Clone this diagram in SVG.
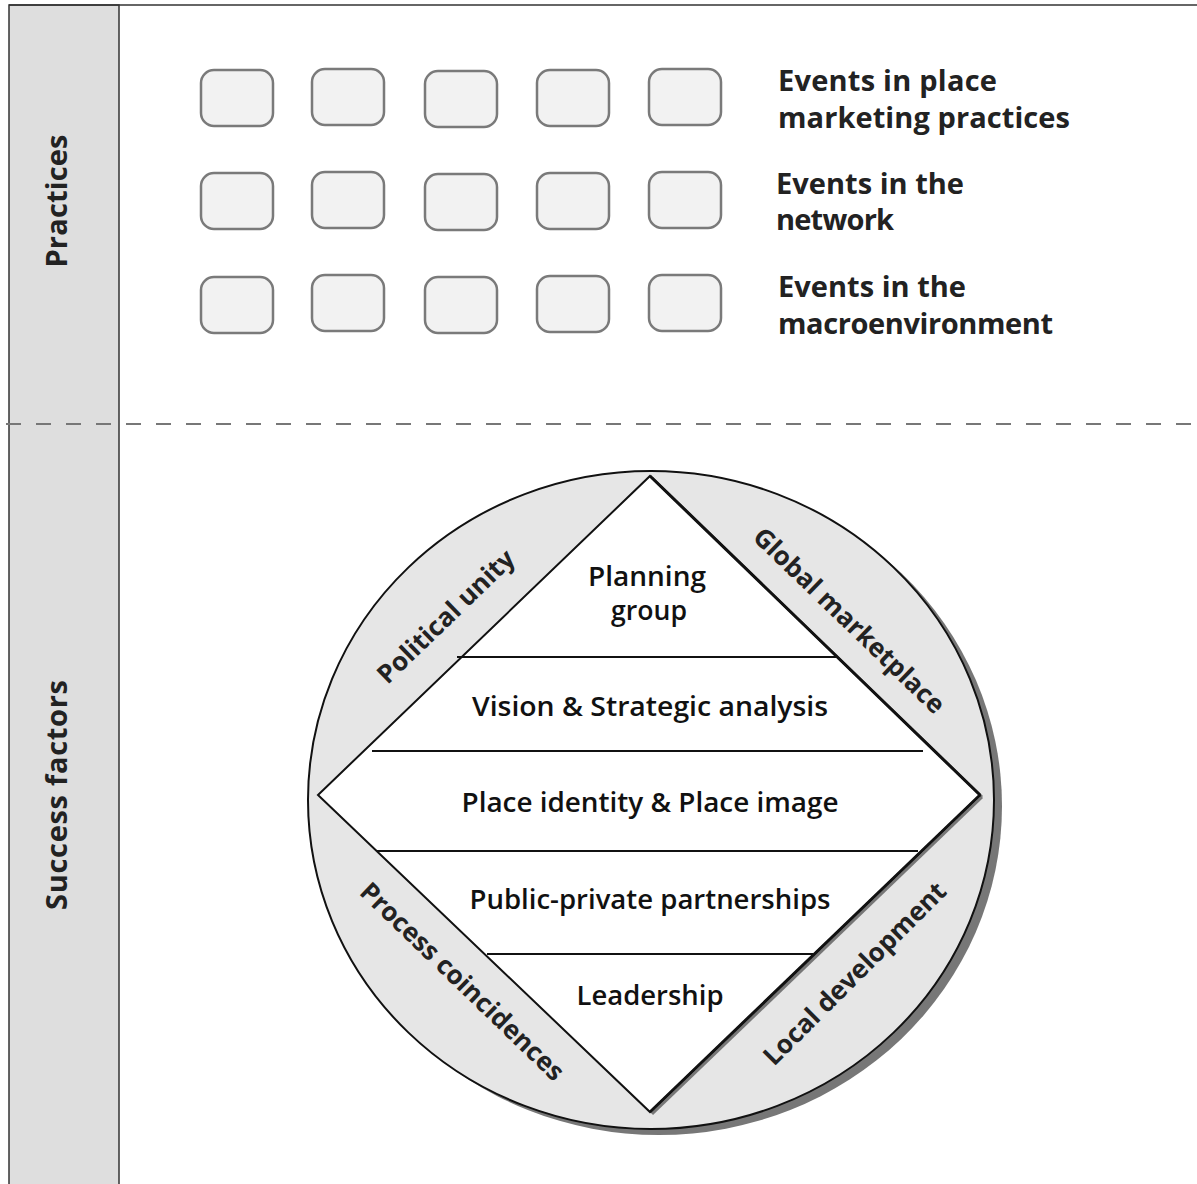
<svg xmlns="http://www.w3.org/2000/svg" width="1197" height="1184" viewBox="0 0 1197 1184">
<style>
.box{fill:#f2f2f2;stroke:#7a7a7a;stroke-width:2.5}
.lbl{font-family:"Open Sans","Liberation Sans",sans-serif;font-weight:700;font-size:29px;fill:#222}
.side{font-family:"Open Sans","Liberation Sans",sans-serif;font-weight:700;font-size:29px;fill:#222;text-anchor:middle}
.in{font-family:"Open Sans","Liberation Sans",sans-serif;font-weight:600;font-size:27px;fill:#111;text-anchor:middle}
.arc{font-family:"Open Sans","Liberation Sans",sans-serif;font-weight:700;font-size:26px;fill:#222;text-anchor:middle}
.hl{stroke:#111;stroke-width:2}
</style>
<rect width="1197" height="1184" fill="#fff"/>
<g id="panel">
<rect x="9" y="5" width="110" height="1185" fill="#dedede" stroke="#333" stroke-width="1.5"/>
<line x1="9" y1="5" x2="1197" y2="5" stroke="#333" stroke-width="1.5"/>
<text class="side" transform="translate(67,201) rotate(-90)" textLength="133">Practices</text>
<text class="side" transform="translate(67,795) rotate(-90)" textLength="230">Success factors</text>
</g>
<line id="divider" x1="6" y1="424" x2="1197" y2="424" stroke="#777" stroke-width="2" stroke-dasharray="15,15"/>
<g id="events">
<rect class="box" x="201" y="70" width="72" height="56" rx="13"/>
<rect class="box" x="312" y="69" width="72" height="56" rx="13"/>
<rect class="box" x="425" y="71" width="72" height="56" rx="13"/>
<rect class="box" x="537" y="70" width="72" height="56" rx="13"/>
<rect class="box" x="649" y="69" width="72" height="56" rx="13"/>
<rect class="box" x="201" y="173" width="72" height="56" rx="13"/>
<rect class="box" x="312" y="172" width="72" height="56" rx="13"/>
<rect class="box" x="425" y="174" width="72" height="56" rx="13"/>
<rect class="box" x="537" y="173" width="72" height="56" rx="13"/>
<rect class="box" x="649" y="172" width="72" height="56" rx="13"/>
<rect class="box" x="201" y="277" width="72" height="56" rx="13"/>
<rect class="box" x="312" y="275" width="72" height="56" rx="13"/>
<rect class="box" x="425" y="277" width="72" height="56" rx="13"/>
<rect class="box" x="537" y="276" width="72" height="56" rx="13"/>
<rect class="box" x="649" y="275" width="72" height="56" rx="13"/>
</g>
<g id="event-labels">
<text class="lbl" x="778" y="91" textLength="219">Events in place</text>
<text class="lbl" x="778" y="128" textLength="292">marketing practices</text>
<text class="lbl" x="776" y="194" textLength="188">Events in the</text>
<text class="lbl" x="776" y="230" textLength="118">network</text>
<text class="lbl" x="778" y="297" textLength="188">Events in the</text>
<text class="lbl" x="778" y="334" textLength="275">macroenvironment</text>
</g>
<g id="circle">
<ellipse cx="659" cy="806" rx="343" ry="329" fill="#777"/>
<ellipse cx="651" cy="800" rx="343" ry="329" fill="#e6e6e6" stroke="#111" stroke-width="2"/>
</g>
<g id="diamond">
<line x1="652" y1="478" x2="982" y2="797" stroke="#777" stroke-width="3"/>
<line x1="982" y1="797" x2="652" y2="1114" stroke="#777" stroke-width="3"/>
<polygon points="650,476 980,795 650,1112 318,795" fill="#fff" stroke="#111" stroke-width="2" stroke-linejoin="miter"/>
<line x1="650" y1="476" x2="980" y2="795" stroke="#111" stroke-width="3"/>
<line x1="980" y1="795" x2="650" y2="1112" stroke="#111" stroke-width="3"/>
<line class="hl" x1="457" y1="657" x2="838" y2="657"/>
<line class="hl" x1="372" y1="751" x2="923" y2="751"/>
<line class="hl" x1="377" y1="851" x2="918" y2="851"/>
<line class="hl" x1="487" y1="954" x2="813" y2="954"/>
</g>
<g id="layers">
<text class="in" x="647" y="586" font-size="25" textLength="118" lengthAdjust="spacingAndGlyphs">Planning</text>
<text class="in" x="649" y="620" font-size="25" textLength="76" lengthAdjust="spacingAndGlyphs">group</text>
<text class="in" x="650" y="716" textLength="356" lengthAdjust="spacingAndGlyphs">Vision &amp; Strategic analysis</text>
<text class="in" x="650" y="812" textLength="377" lengthAdjust="spacingAndGlyphs">Place identity &amp; Place image</text>
<text class="in" x="650" y="909" textLength="361" lengthAdjust="spacingAndGlyphs">Public-private partnerships</text>
<text class="in" x="650" y="1005" textLength="147" lengthAdjust="spacingAndGlyphs">Leadership</text>
</g>
<g id="factors">
<text class="arc" transform="translate(452,623) rotate(-44)">Political unity</text>
<text class="arc" transform="translate(843,627) rotate(44)">Global marketplace</text>
<text class="arc" transform="translate(456,988) rotate(44)">Process coincidences</text>
<text class="arc" transform="translate(861,980) rotate(-45)">Local development</text>
</g>
</svg>
